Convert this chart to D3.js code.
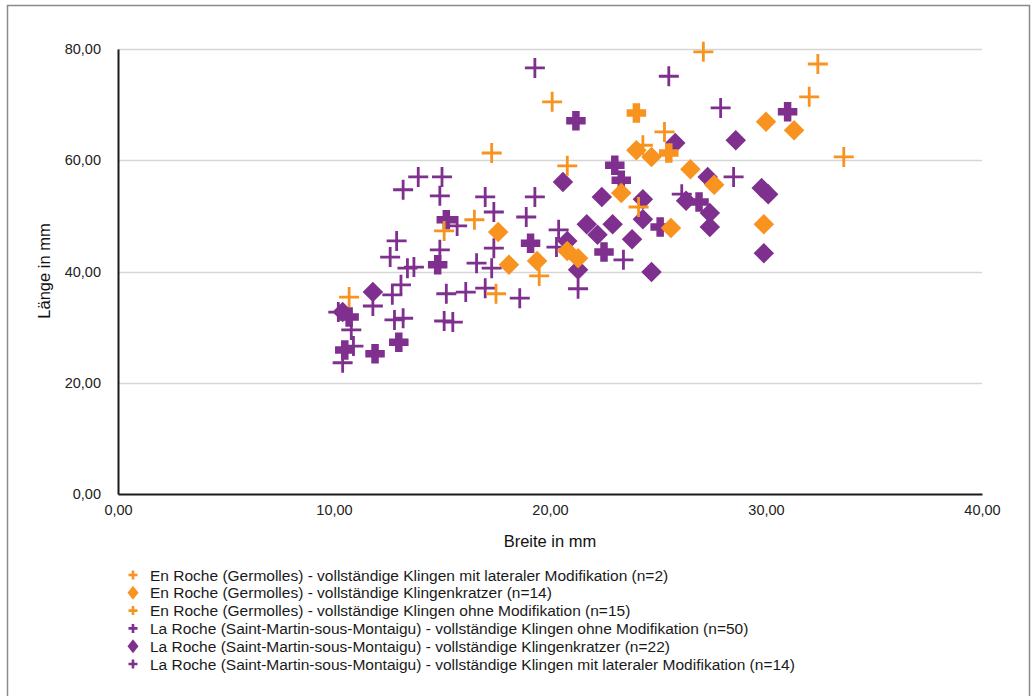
<!DOCTYPE html>
<html>
<head>
<meta charset="utf-8">
<script src="https://cdn.jsdelivr.net/npm/d3@7"></script>
<style>
  html, body { margin: 0; padding: 0; background: #fff; }
  svg { display: block; font-family: "Liberation Sans", Arial, Helvetica, sans-serif; }
</style>
</head>
<body>
<svg id="chart" width="1033" height="696"></svg>
<script>
// ---- Data (Breite in mm, Länge in mm) ----
const germollesLateral = [[24.0,68.5],[25.5,61.3]];
const germollesKratzer = [[17.6,47.1],[18.1,41.2],[19.4,41.9],[20.8,43.7],[21.3,42.4],[23.3,54.1],[24.0,61.8],[24.7,60.6],[25.6,47.8],[26.5,58.4],[27.6,55.6],[29.9,48.5],[30.0,66.9],[31.3,65.4]];
const germollesOhne = [[10.7,35.4],[15.1,47.3],[16.5,49.3],[17.5,36.0],[17.3,61.3],[19.5,39.2],[20.1,70.5],[20.8,59.0],[24.1,51.6],[24.3,62.7],[25.3,65.1],[27.1,79.5],[32.4,77.3],[32.0,71.4],[33.6,60.6]];
const rocheOhne = [[25.5,75.1],[27.9,69.4],[28.5,57.0],[26.1,53.9],[23.4,42.1],[21.3,36.9],[19.3,53.4],[17.4,50.7],[18.9,49.8],[20.4,47.5],[20.3,44.4],[17.4,44.2],[17.3,40.6],[16.6,41.5],[18.6,35.2],[17.0,37.0],[16.1,36.3],[15.2,36.0],[15.5,30.9],[15.1,31.1],[15.7,48.2],[14.9,43.9],[13.2,54.7],[13.9,57.0],[15.0,57.0],[14.9,53.6],[17.0,53.4],[12.9,45.5],[12.6,42.6],[13.4,40.6],[13.7,40.8],[13.1,37.6],[12.7,35.8],[11.8,33.8],[12.8,31.3],[13.2,31.6],[10.8,29.5],[10.9,26.6],[10.4,23.6],[19.3,76.6],[10.2,32.7]];
const rocheKratzer = [[11.8,36.3],[10.4,32.7],[20.6,56.1],[20.8,45.5],[21.3,40.3],[21.7,48.5],[22.2,46.6],[22.4,53.4],[22.9,48.5],[23.8,45.8],[24.3,53.0],[24.3,49.4],[24.7,39.9],[25.8,63.1],[26.3,52.7],[27.3,57.0],[27.4,50.5],[27.4,48.0],[28.6,63.6],[29.8,55.0],[30.1,53.9],[29.9,43.3]];
const rocheLateral = [[31.0,68.7],[23.0,59.1],[23.3,56.4],[26.9,52.5],[22.5,43.5],[25.1,48.0],[19.1,45.1],[21.2,67.1],[15.2,49.3],[14.8,41.2],[13.0,27.3],[11.9,25.2],[10.7,31.8],[10.5,25.9]];

const xTicks = [0, 10, 20, 30, 40];
const yTicks = [0, 20, 40, 60, 80];
const xTitle = "Breite in mm";
const yTitle = "Länge in mm";
const legendLabels = [
  "En Roche (Germolles) - vollständige Klingen mit lateraler Modifikation (n=2)",
  "En Roche (Germolles) - vollständige Klingenkratzer (n=14)",
  "En Roche (Germolles) - vollständige Klingen ohne Modifikation (n=15)",
  "La Roche (Saint-Martin-sous-Montaigu) - vollständige Klingen ohne Modifikation (n=50)",
  "La Roche (Saint-Martin-sous-Montaigu) - vollständige Klingenkratzer (n=22)",
  "La Roche (Saint-Martin-sous-Montaigu) - vollständige Klingen mit lateraler Modifikation (n=14)"
];

// ---- Styles ----
const ORANGE = "#F7931E";
const PURPLE = "#7F2F8E";

const svg = d3.select("#chart");
svg.append("rect").attr("width", 1033).attr("height", 696).attr("fill", "#fff");

// frame
svg.append("path").attr("d", "M7.5,700 L7.5,5.5 L1029.5,5.5 L1029.5,700")
  .attr("fill", "none").attr("stroke", "#8a8a8a").attr("stroke-width", 1.5);

const x = d3.scaleLinear().domain([0, 40]).range([118, 982]);
const y = d3.scaleLinear().domain([0, 80]).range([494, 49]);
const fmt = v => d3.format(".2f")(v).replace(".", ",");

// gridlines
svg.append("g").selectAll("line").data(yTicks.filter(d => d > 0)).join("line")
  .attr("x1", x(0)).attr("x2", x(40))
  .attr("y1", d => Math.round(y(d)) + 0.5).attr("y2", d => Math.round(y(d)) + 0.5)
  .attr("stroke", "#d6d6d6").attr("stroke-width", 1.5);

// axes
const gy = svg.append("g").attr("transform", `translate(${x(0)},0)`)
  .call(d3.axisLeft(y).tickValues(yTicks).tickFormat(fmt).tickSize(0).tickSizeOuter(0).tickPadding(17));
const gx = svg.append("g").attr("transform", `translate(0,${y(0)})`)
  .call(d3.axisBottom(x).tickValues(xTicks).tickFormat(fmt).tickSize(0).tickSizeOuter(0).tickPadding(11));
[gx, gy].forEach(g => {
  g.select(".domain").attr("stroke", "#1a1a1a").attr("stroke-width", 2);
  g.selectAll("text").attr("font-size", 14.5).attr("fill", "#222")
    .attr("font-family", "'Liberation Sans', Arial, sans-serif");
});

// axis titles
svg.append("text").attr("x", 550).attr("y", 547).attr("text-anchor", "middle")
  .attr("font-size", 16.5).attr("fill", "#111").text(xTitle);
svg.append("text").attr("transform", "translate(50,271) rotate(-90)").attr("text-anchor", "middle")
  .attr("font-size", 16.5).attr("fill", "#111").text(yTitle);

// marker paths
function plusPath(span, arm) {
  const s = span / 2, a = arm / 2;
  return `M${-a},${-s}H${a}V${-a}H${s}V${a}H${a}V${s}H${-a}V${a}H${-s}V${-a}H${-a}Z`;
}
function diamondPath(w, h) {
  return `M0,${-h/2}L${w/2},0L0,${h/2}L${-w/2},0Z`;
}

const series = [
  { data: rocheOhne, type: "thin", color: PURPLE },
  { data: rocheLateral, type: "thick", color: PURPLE },
  { data: rocheKratzer, type: "diamond", color: PURPLE },
  { data: germollesOhne, type: "thin", color: ORANGE },
  { data: germollesKratzer, type: "diamond", color: ORANGE },
  { data: germollesLateral, type: "thick", color: ORANGE }
];

function markerD(type, big) {
  if (type === "thin") return big ? plusPath(20, 2.8) : plusPath(9, 2.6);
  if (type === "thick") return big ? plusPath(19.5, 7.5) : plusPath(9, 2.6);
  return big ? diamondPath(20.5, 20.5) : diamondPath(11, 14);
}

const plot = svg.append("g");
series.forEach(s => {
  plot.append("g").selectAll("path").data(s.data).join("path")
    .attr("transform", d => `translate(${x(d[0])},${y(d[1])})`)
    .attr("d", markerD(s.type, true))
    .attr("fill", s.color);
});

// legend
const legendItems = [
  { type: "thick", color: ORANGE },
  { type: "diamond", color: ORANGE },
  { type: "thin", color: ORANGE },
  { type: "thin", color: PURPLE },
  { type: "diamond", color: PURPLE },
  { type: "thick", color: PURPLE }
];
const lg = svg.append("g");
legendItems.forEach((it, i) => {
  const cy = 575 + i * 17.8;
  lg.append("path").attr("transform", `translate(133,${cy})`)
    .attr("d", markerD(it.type, false)).attr("fill", it.color);
  lg.append("text").attr("x", 150).attr("y", cy + 5.5).attr("font-size", 15.5)
    .attr("fill", "#1a1a1a").text(legendLabels[i]);
});
</script>
</body>
</html>
